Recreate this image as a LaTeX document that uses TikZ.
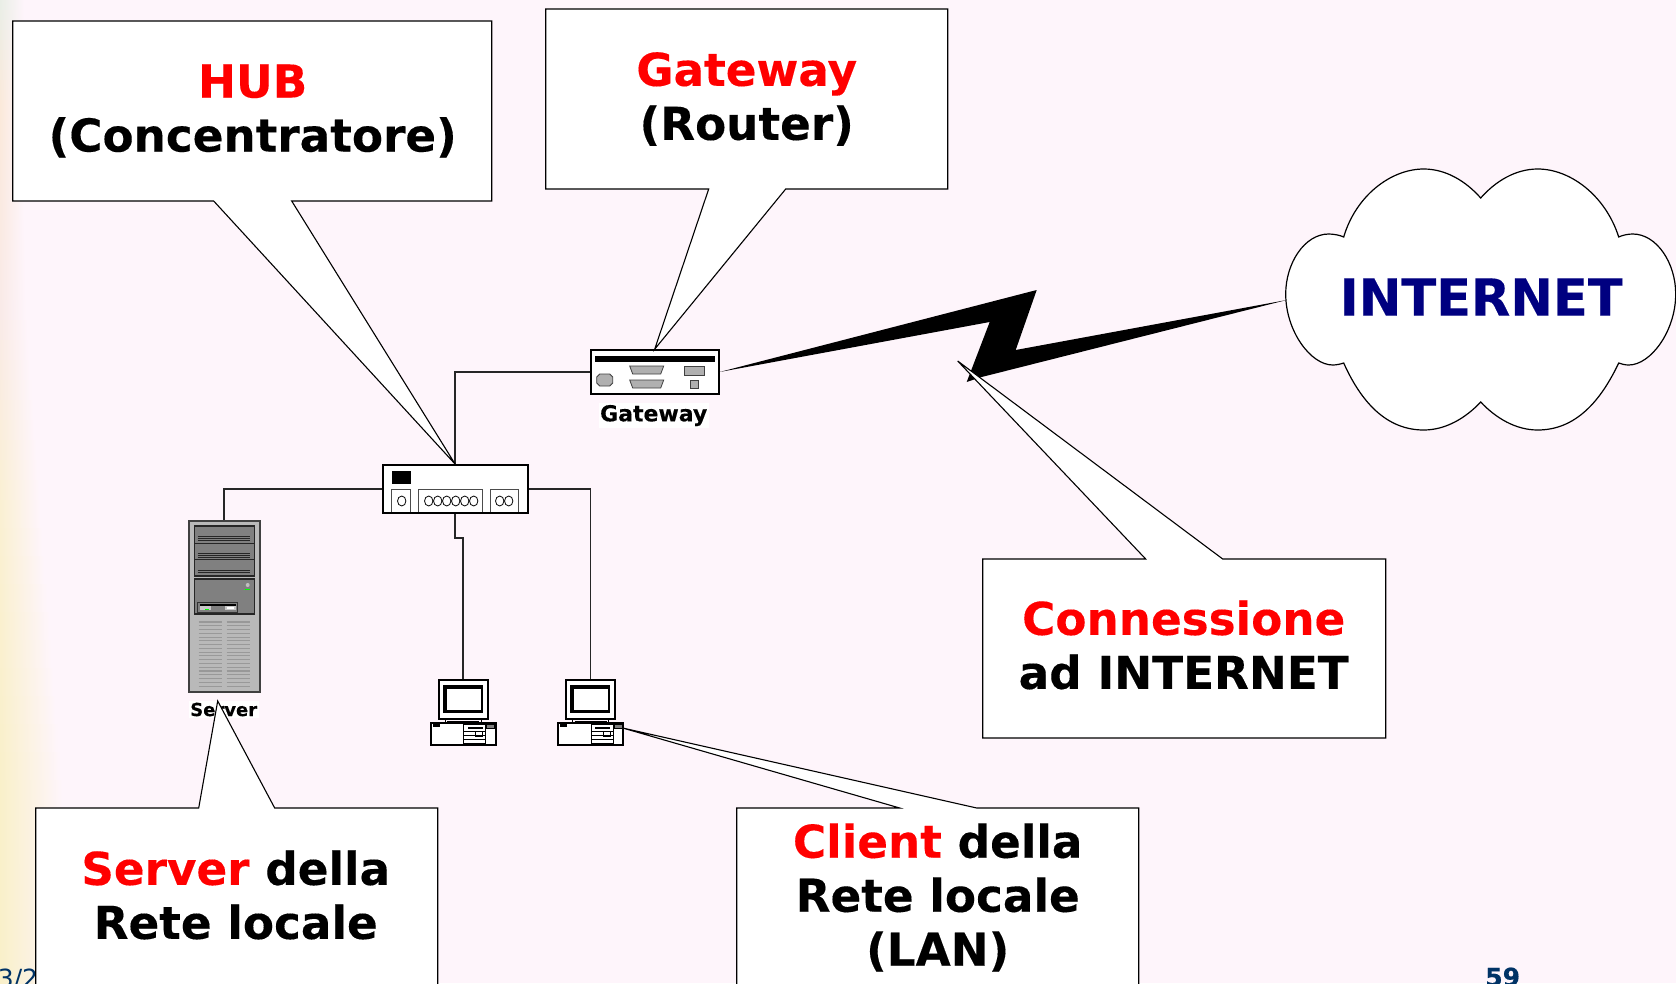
\documentclass[tikz,border=0pt]{standalone}
\usepackage{fontspec}
\setmainfont{DejaVu Sans}[BoldFeatures={FakeBold=0.25}]
\definecolor{bgpink}{HTML}{FEF5FB}
\definecolor{creamA}{HTML}{E9EEE6}
\definecolor{creamB}{HTML}{FBE9DA}
\definecolor{creamC}{HTML}{F9EAE8}
\definecolor{creamD}{HTML}{FAF0D2}
\definecolor{creamE}{HTML}{F9F0C9}
\definecolor{navytxt}{HTML}{000080}
\definecolor{foot}{HTML}{003366}
\definecolor{tower}{HTML}{B9B9B9}
\definecolor{bay}{HTML}{808080}
\definecolor{devgrey}{HTML}{B0B0B0}
\tikzset{
  calloutshape/.style={draw=black,fill=white,line width=1.1pt,line join=miter},
  callouttxt/.style={align=center,inner sep=0pt,font=\fontsize{45.3}{54}\selectfont\bfseries},
  devbox/.style={draw=black,fill=white,line width=1.7pt,inner sep=0pt},
  wire/.style={draw=black!85,line width=1.5pt},
  port/.style={draw=black!70,fill=white,line width=1pt},
  hole/.style={draw=black,line width=.8pt},
  devpart/.style={draw=black!75,fill=devgrey,line width=.8pt},
  devlabel/.style={fill=white,inner sep=1.5pt,font=\bfseries},
  pcunit/.pic={
    \fill[black] (-20.5,-14.5) rectangle (19.5,13.5);
    \fill[white] (-16.5,-10.5) rectangle (17.5,10.5);
    \draw[line width=1pt] (-18,19.5) -- (-18,23.5) (18,19.5) -- (18,23.5) (-16,22) -- (16,22);
    \draw[devbox] (-32.5,23.5) rectangle (32.5,45.5);
    \fill[black] (-30.5,24.5) rectangle (-23.5,27.5);
    \draw[line width=.8pt] (0.5,24.5) rectangle (22.5,43.5);
    \fill[black] (4.5,27.5) rectangle (19.5,29.5);
    \draw[line width=.6pt] (0.5,32) -- (22.5,32) (0.5,36) -- (22.5,36) (0.5,40) -- (22.5,40);
    \draw[line width=.8pt] (12.5,31.5) rectangle (19.5,36.5);
    \draw[line width=.8pt,fill=black!50] (23.5,24.5) rectangle (31.5,28.5);
  }
}
\begin{document}
\begin{tikzpicture}[x=1pt,y=-1pt]
\useasboundingbox (0,0) rectangle (1676,983);
\clip (0,0) rectangle (1676,983);
\fill[bgpink] (0,0) rectangle (1676,983);
% left edge wash
\foreach \ya/\yb/\wa/\wb/\ca/\cb in {
  0/100/24/22/creamA/creamB,
  100/300/22/26/creamB/creamC,
  300/500/26/40/creamC/creamD,
  500/780/40/62/creamD/creamE,
  780/990/62/66/creamE/creamE}{
  \foreach \t in {0,10,...,90}{
    \pgfmathsetmacro\ysa{\ya+(\yb-\ya)*(\t/100)}
    \pgfmathsetmacro\ysb{\ysa+(\yb-\ya)/10+.5}
    \pgfmathsetmacro\wid{\wa+(\wb-\wa)*(\t/100)}
    \pgfmathtruncatemacro\rem{100-\t}
    \colorlet{stripc}{\ca!\rem!\cb}
    \shade[left color=stripc,middle color=stripc,right color=bgpink] (0,\ysa) rectangle (\wid,\ysb);
  }
}
\begin{scope}[shift={(0.7,1)}]
% footer
\node[anchor=base west,inner sep=0pt,text=foot,font=\fontsize{25}{30}\selectfont] (datefoot) at (-3,986) {3/2};
\node[anchor=base,inner sep=0pt,text=foot,font=\fontsize{25}{30}\selectfont\bfseries] (pagefoot) at (1502,985) {59};

% devices
\node[devbox,minimum width=145pt,minimum height=48pt] (hub) at (454.5,488) {};
\node[devbox,minimum width=128pt,minimum height=44pt] (gw) at (654,371) {};
\node[draw=black!75,fill=tower,line width=1.6pt,inner sep=0pt,minimum width=71pt,minimum height=171pt] (srv) at (223.5,605.5) {};
\node[devbox,minimum width=49pt,minimum height=39pt] (pca) at (462.5,698.5) {};
\node[devbox,minimum width=49pt,minimum height=39pt] (pcb) at (589.8,698.5) {};

% connectors
\draw[wire] (gw.west) -| (hub.north);
\draw[wire] (hub.west) -| (srv.north);
\draw[wire] (hub.east) -| (pcb.north);
\draw[wire] (hub.south) -- ++(0,24) -| (pca.north);

% hub detail
\fill[black] (391,470) rectangle (410,483);
\draw[port] (391,512) -- (391,488) -- (410,488) -- (410,512);
\draw[port] (418,512) -- (418,488) -- (482,488) -- (482,512);
\draw[port] (490,512) -- (490,488) -- (518,488) -- (518,512);
\foreach \cx in {401,428,437,446,455,464,473,499,508}
  \draw[hole] (\cx,500) ellipse (4.2 and 5);
\draw[line width=1.7pt] (382,512) -- (527,512);

% gateway detail
\fill[black] (594,355) rectangle (714,361);
\draw[devpart] (599,373) -- (609,373) -- (612,376) -- (612,382) -- (609,385) -- (599,385) -- (596,382) -- (596,376) -- cycle;
\draw[devpart] (629,365) -- (663,365) -- (660,373) -- (632,373) -- cycle;
\draw[devpart] (629,379) -- (663,379) -- (660,387) -- (632,387) -- cycle;
\draw[devpart] (684,365) rectangle (704,374);
\draw[devpart] (690,379) rectangle (698,387);
\node[devlabel,font=\fontsize{22}{26}\selectfont\bfseries] (gwlabel) at (653,414.5) {Gateway};

% server detail
\draw[draw=black!85,fill=bay,line width=1.1pt] (194,525) rectangle (254,575);
\draw[black!85,line width=1pt] (194,542) -- (254,542) (194,558) -- (254,558);
\foreach \sy in {535,537,539,552,554,556,569,571}
  \draw[black!85,line width=1pt] (197,\sy) -- (249,\sy);
\draw[draw=black!85,fill=bay,line width=1.1pt] (194,578) rectangle (254,613);
\fill[black!25] (247,584) circle (2);
\draw[green,line width=1pt] (244,588.5) -- (249,588.5);
\draw[draw=black!80,fill=bay,line width=1pt] (197,601) rectangle (237,611);
\fill[black!22] (199,603) rectangle (210,609);
\fill[black!22] (224,603) rectangle (235,609);
\fill[black] (199,602.5) rectangle (235,604.5);
\fill[green] (204,607.5) rectangle (208,609);
\fill[white] (226,606) rectangle (233,608);
\foreach \vy in {0,...,17}{
  \draw[black!40,line width=1.1pt] (198,621+\vy*3.77) -- (221,621+\vy*3.77);
  \draw[black!40,line width=1.1pt] (226,621+\vy*3.77) -- (249,621+\vy*3.77);
}
\node[devlabel,font=\fontsize{18}{22}\selectfont\bfseries] (srvlabel) at (223,708.5) {Server};

% PCs
\path (pca.center) pic {pcunit};
\path (pcb.center) pic {pcunit};

% bolt
\coordinate (netw) at (1286,299);
\fill[black] (gw.east) -- (1036,289) -- (1015,349) -- (netw) -- (981,376) -- (966,381) -- (989,321) -- cycle;

% cloud
\draw[fill=white,line width=1.2pt] (1343,236)
  .. controls (1355,195) and (1390,168) .. (1423,168)
  .. controls (1445,168) and (1465,180) .. (1480,197)
  .. controls (1495,180) and (1515,168) .. (1537,168)
  .. controls (1570,168) and (1605,195) .. (1618,236)
  .. controls (1622,234) and (1628,233) .. (1632,233)
  .. controls (1656,233) and (1675,262) .. (1675,293)
  .. controls (1675,330) and (1650,364) .. (1628,364)
  .. controls (1624,364) and (1621,363) .. (1618,362)
  .. controls (1600,400) and (1575,429) .. (1537,429)
  .. controls (1515,429) and (1495,417) .. (1480,401)
  .. controls (1465,417) and (1445,429) .. (1423,429)
  .. controls (1385,429) and (1360,400) .. (1343,362)
  .. controls (1340,363) and (1336,364) .. (1332,364)
  .. controls (1310,364) and (1285,330) .. (1285,293)
  .. controls (1285,262) and (1304,233) .. (1328,233)
  .. controls (1332,233) and (1339,234) .. (1343,236) -- cycle;
\node[inner sep=0pt,text=navytxt,font=\fontsize{51}{60}\selectfont\bfseries] (internet) at (1480.5,296) {INTERNET};

% callouts
\coordinate (conntip) at (957,360);
\coordinate (clienttip) at (622,727);
\coordinate (servertip) at (217,700);
\draw[calloutshape] (12,20) -- (491,20) -- (491,200) -- (291,200) -- (hub.north) -- (213,200) -- (12,200) -- cycle;
\node[callouttxt] (hubtxt) at (252,110) {\textcolor{red}{HUB}\\(Concentratore)};
\draw[calloutshape] (545,8) -- (947,8) -- (947,188) -- (785,188) -- (gw.north) -- (708,188) -- (545,188) -- cycle;
\node[callouttxt] (gwtxt) at (746,98) {\textcolor{red}{Gateway}\\(Router)};
\draw[calloutshape] (982,558) -- (1145,558) -- (conntip) -- (1222,558) -- (1385,558) -- (1385,737) -- (982,737) -- cycle;
\node[callouttxt] (conntxt) at (1183,644) {\textcolor{red}{Connessione}\\ad INTERNET};
\draw[calloutshape] (35,1000) -- (35,807) -- (198,807) -- (servertip) -- (274,807) -- (437,807) -- (437,1000);
\node[callouttxt] (srvtxt) at (235,894) {\textcolor{red}{Server} della\\Rete locale};
\draw[calloutshape] (736,1000) -- (736,807) -- (899,807) -- (clienttip) -- (976,807) -- (1138,807) -- (1138,1000);
\node[callouttxt] (clienttxt) at (937,896.5) {\textcolor{red}{Client} della\\Rete locale\\(LAN)};
\end{scope}
\end{tikzpicture}
\end{document}
